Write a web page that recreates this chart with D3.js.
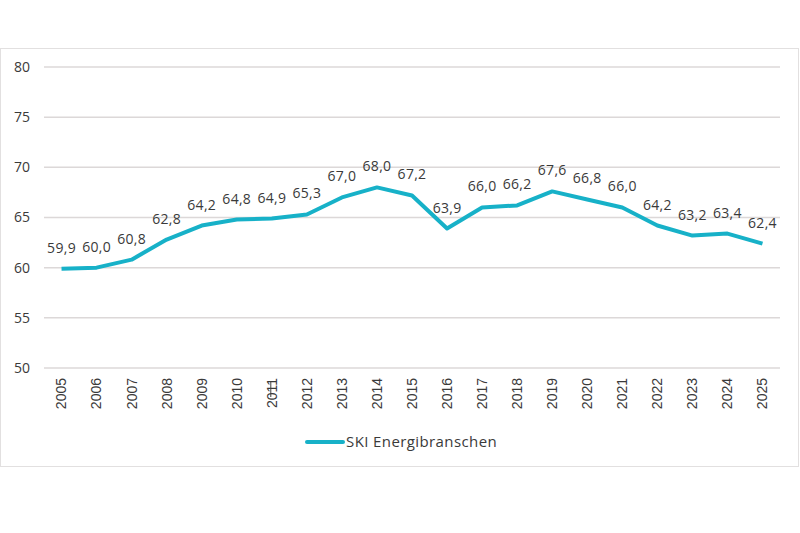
<!DOCTYPE html>
<html>
<head>
<meta charset="utf-8">
<script src="https://cdn.jsdelivr.net/npm/d3@7"></script>
<style>
  body { margin: 0; background: #fff; }
  svg { display: block; }
</style>
</head>
<body>
<svg id="chart" width="800" height="533"></svg>
<script>
var years = ['2005','2006','2007','2008','2009','2010','2011','2012','2013','2014','2015',
             '2016','2017','2018','2019','2020','2021','2022','2023','2024','2025'];
var values = [59.9, 60.0, 60.8, 62.8, 64.2, 64.8, 64.9, 65.3, 67.0, 68.0, 67.2,
              63.9, 66.0, 66.2, 67.6, 66.8, 66.0, 64.2, 63.2, 63.4, 62.4];
var yTicks = [50, 55, 60, 65, 70, 75, 80];
var seriesName = 'SKI Energibranschen';

var svg = d3.select('#chart');
var lineColor = '#17b1c8';
var textColor = '#3a3a3a';
var roundFont = 'Open Sans, Noto Sans, sans-serif';

// outer frame
svg.append('rect')
    .attr('x', 0.5).attr('y', 48.5)
    .attr('width', 798).attr('height', 418)
    .attr('fill', 'none')
    .attr('stroke', '#e2e0e0');

var x = d3.scaleBand().domain(years).range([44, 780]);
var y = d3.scaleLinear().domain([50, 80]).range([368, 67]);

// gridlines
svg.append('g').selectAll('line')
    .data(yTicks)
    .join('line')
    .attr('x1', 44).attr('x2', 780)
    .attr('y1', function(d){ return y(d); })
    .attr('y2', function(d){ return y(d); })
    .attr('stroke', '#dcd8d8')
    .attr('stroke-width', 1.5);

// y labels
svg.append('g').selectAll('text')
    .data(yTicks)
    .join('text')
    .attr('x', 30)
    .attr('y', function(d){ return y(d); })
    .attr('dy', '0.35em')
    .attr('text-anchor', 'end')
    .style('font-family', roundFont)
    .style('font-size', '14px')
    .style('fill', textColor)
    .text(function(d){ return d; });

// x labels, rotated
svg.append('g').selectAll('text')
    .data(years)
    .join('text')
    .attr('transform', function(d){
        return 'translate(' + (x(d) + x.bandwidth() / 2) + ',378) rotate(-90)';
    })
    .attr('dy', '0.35em')
    .attr('text-anchor', 'end')
    .style('font-family', 'Liberation Sans, Arial, sans-serif')
    .style('font-size', '14px')
    .style('fill', textColor)
    .text(function(d){ return d; });

// stray mark over 2011
svg.append('line')
    .attr('x1', x('2011') + x.bandwidth() / 2 - 1).attr('x2', x('2011') + x.bandwidth() / 2 - 1)
    .attr('y1', 381).attr('y2', 397)
    .attr('stroke', '#404040')
    .attr('stroke-width', 1);

// the line
var line = d3.line()
    .x(function(d, i){ return x(years[i]) + x.bandwidth() / 2; })
    .y(function(d){ return y(d); });

svg.append('path')
    .datum(values)
    .attr('d', line)
    .attr('fill', 'none')
    .attr('stroke', lineColor)
    .attr('stroke-width', 4)
    .attr('stroke-linejoin', 'round');

// data labels
svg.append('g').selectAll('text')
    .data(values)
    .join('text')
    .attr('x', function(d, i){ return x(years[i]) + x.bandwidth() / 2; })
    .attr('y', function(d){ return y(d) - 16; })
    .attr('text-anchor', 'middle')
    .style('font-family', roundFont)
    .style('font-size', '14px')
    .style('letter-spacing', '0.3px')
    .style('fill', textColor)
    .text(function(d){ return d.toFixed(1).replace('.', ','); });

// legend
var lg = svg.append('g');
lg.append('line')
    .attr('x1', 307).attr('x2', 343)
    .attr('y1', 442).attr('y2', 442)
    .attr('stroke', lineColor)
    .attr('stroke-width', 4)
    .attr('stroke-linecap', 'round');
lg.append('text')
    .attr('x', 346).attr('y', 442)
    .attr('dy', '0.35em')
    .style('font-family', roundFont)
    .style('font-size', '15px')
    .style('letter-spacing', '0.4px')
    .style('fill', textColor)
    .text(seriesName);
</script>
</body>
</html>
